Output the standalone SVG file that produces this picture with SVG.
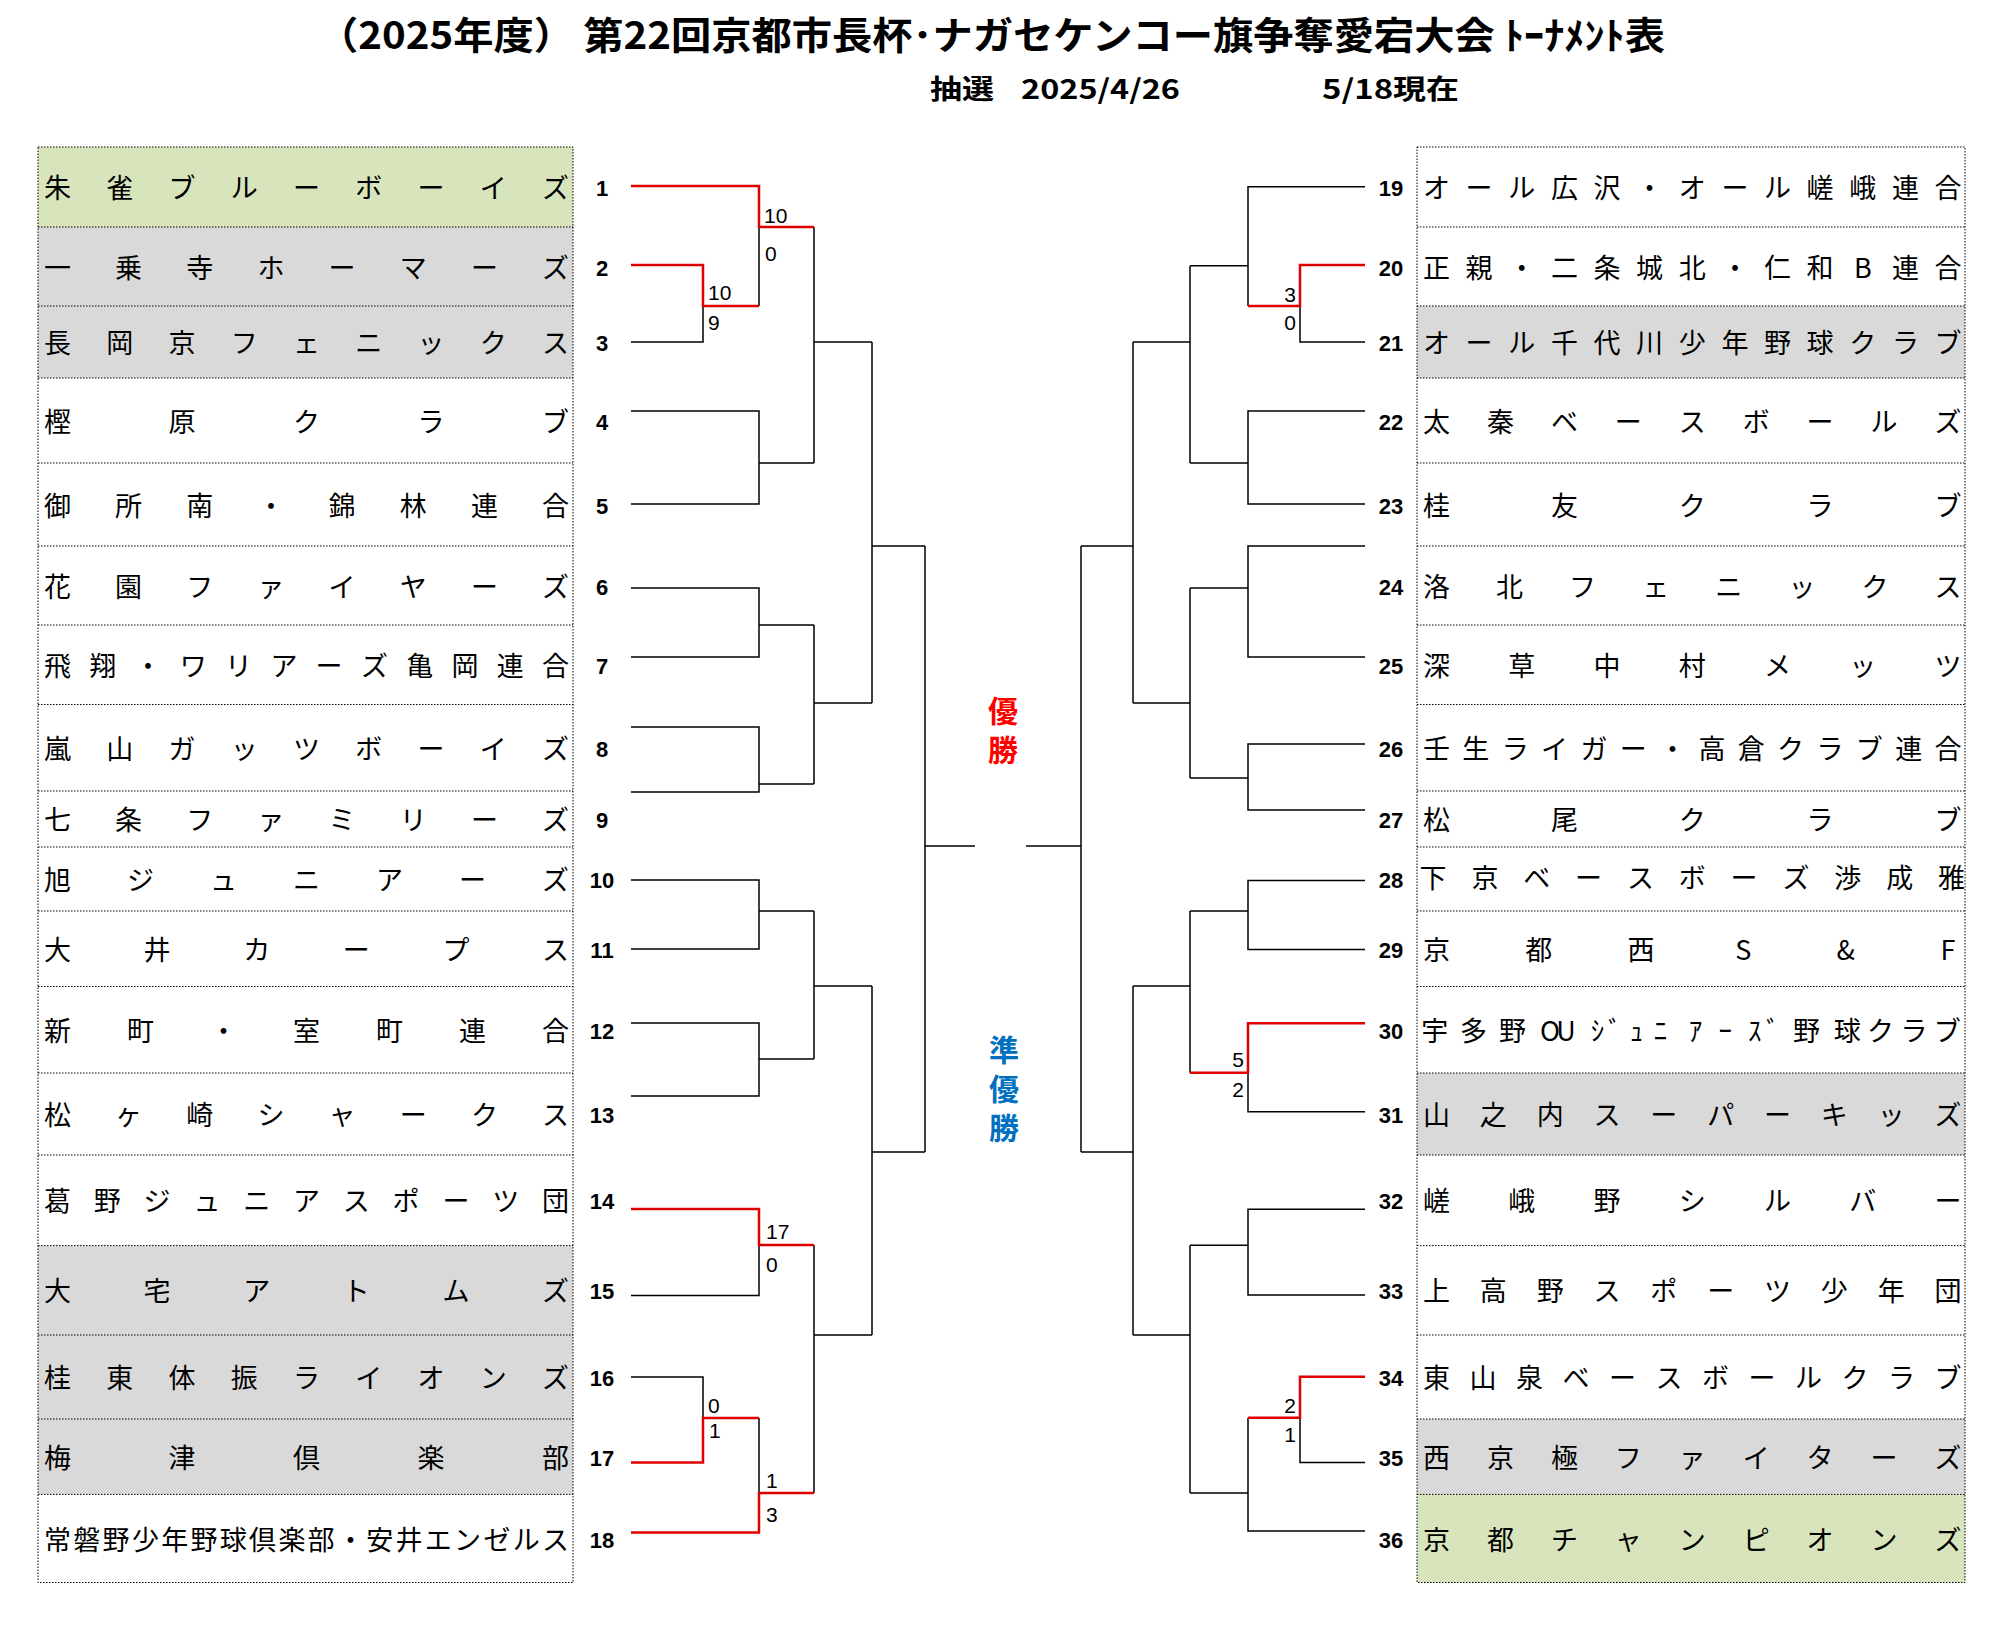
<svg xmlns="http://www.w3.org/2000/svg" width="2001" height="1638" viewBox="0 0 2001 1638">
<style>
.ln{fill:none;stroke:#000;stroke-width:1.5}
.rd{fill:none;stroke:#E00000;stroke-width:2.5}
.nm{font-family:"Noto Sans CJK JP","Noto Sans CJK SC",sans-serif;font-size:27px;text-anchor:middle;fill:#000}
.no{font-family:"Liberation Sans",Arial,sans-serif;font-weight:bold;font-size:22px;text-anchor:middle;fill:#000}
.sc{font-family:"Liberation Sans",Arial,sans-serif;font-size:21px;fill:#000}
.scr{font-family:"Liberation Sans",Arial,sans-serif;font-size:21px;fill:#000;text-anchor:end}
.dot{fill:none;stroke:#000;stroke-width:1;stroke-dasharray:1.5 1.5}
.gr{fill:#D9D9D9}
.gn{fill:#D8E4BC}
.ttl{font-family:"Noto Sans CJK JP",sans-serif;font-weight:bold;fill:#000}
.ctr{font-family:"Noto Sans CJK JP",sans-serif;font-weight:bold;font-size:30px;writing-mode:vertical-rl;letter-spacing:9px}
</style>
<rect x="0" y="0" width="2001" height="1638" fill="#fff"/>
<g id="title">
<text class="ttl" x="318" y="49" font-size="38" textLength="1347" lengthAdjust="spacingAndGlyphs">（2025年度） 第22回京都市長杯･ナガセケンコー旗争奪愛宕大会 ﾄｰﾅﾒﾝﾄ表</text>
<text class="ttl" x="930" y="99" font-size="27" textLength="64" lengthAdjust="spacingAndGlyphs">抽選</text>
<text class="ttl" x="1021" y="99" font-size="27" textLength="159" lengthAdjust="spacingAndGlyphs">2025/4/26</text>
<text class="ttl" x="1322" y="99" font-size="27" textLength="137" lengthAdjust="spacingAndGlyphs">5/18現在</text>
</g>
<g id="fills">
<rect class="gn" x="38" y="147" width="535" height="80"/>
<rect class="gr" x="38" y="227" width="535" height="151"/>
<rect class="gr" x="38" y="1245.6" width="535" height="248.8"/>
<rect class="gr" x="1417" y="306" width="548" height="72"/>
<rect class="gr" x="1417" y="1073" width="548" height="82"/>
<rect class="gr" x="1417" y="1419" width="548" height="75.4"/>
<rect class="gn" x="1417" y="1494.4" width="548" height="88.1"/>
</g>
<g id="table-borders">
<rect class="dot" x="38" y="147" width="535" height="1435.5"/>
<rect class="dot" x="1417" y="147" width="548" height="1435.5"/>
<path class="dot" d="M38,227H573M38,306H573M38,378H573M38,463H573M38,546H573M38,625H573M38,704.5H573M38,791H573M38,847H573M38,911H573M38,986.5H573M38,1073H573M38,1155H573M38,1245.6H573M38,1335H573M38,1419H573M38,1494.4H573"/>
<path class="dot" d="M1417,227H1965M1417,306H1965M1417,378H1965M1417,463H1965M1417,546H1965M1417,625H1965M1417,704.5H1965M1417,791H1965M1417,847H1965M1417,911H1965M1417,986.5H1965M1417,1073H1965M1417,1155H1965M1417,1245.6H1965M1417,1335H1965M1417,1419H1965M1417,1494.4H1965"/>
</g>
<g id="team-1"><text class="no" x="602" y="196">1</text><text class="nm" x="57.5 119.75 182 244.25 306.5 368.75 431 493.25 555.5" y="198">朱雀ブルーボーイズ</text></g>
<g id="team-2"><text class="no" x="602" y="276">2</text><text class="nm" x="57.5 128.6 199.8 270.9 342.1 413.2 484.4 555.5" y="278">一乗寺ホーマーズ</text></g>
<g id="team-3"><text class="no" x="602" y="351">3</text><text class="nm" x="57.5 119.75 182 244.25 306.5 368.75 431 493.25 555.5" y="353">長岡京フェニックス</text></g>
<g id="team-4"><text class="no" x="602" y="430">4</text><text class="nm" x="57.5 182 306.5 431 555.5" y="432">樫原クラブ</text></g>
<g id="team-5"><text class="no" x="602" y="514">5</text><text class="nm" x="57.5 128.6 199.8 270.9 342.1 413.2 484.4 555.5" y="516">御所南・錦林連合</text></g>
<g id="team-6"><text class="no" x="602" y="595">6</text><text class="nm" x="57.5 128.6 199.8 270.9 342.1 413.2 484.4 555.5" y="597">花園ファイヤーズ</text></g>
<g id="team-7"><text class="no" x="602" y="674">7</text><text class="nm" x="57.5 102.8 148.1 193.3 238.6 283.9 329.1 374.4 419.7 464.9 510.2 555.5" y="676">飛翔・ワリアーズ亀岡連合</text></g>
<g id="team-8"><text class="no" x="602" y="757">8</text><text class="nm" x="57.5 119.75 182 244.25 306.5 368.75 431 493.25 555.5" y="759">嵐山ガッツボーイズ</text></g>
<g id="team-9"><text class="no" x="602" y="828">9</text><text class="nm" x="57.5 128.6 199.8 270.9 342.1 413.2 484.4 555.5" y="830">七条ファミリーズ</text></g>
<g id="team-10"><text class="no" x="602" y="888">10</text><text class="nm" x="57.5 140.5 223.5 306.5 389.5 472.5 555.5" y="890">旭ジュニアーズ</text></g>
<g id="team-11"><text class="no" x="602" y="958">11</text><text class="nm" x="57.5 157.1 256.7 356.3 455.9 555.5" y="960">大井カープス</text></g>
<g id="team-12"><text class="no" x="602" y="1039">12</text><text class="nm" x="57.5 140.5 223.5 306.5 389.5 472.5 555.5" y="1041">新町・室町連合</text></g>
<g id="team-13"><text class="no" x="602" y="1123">13</text><text class="nm" x="57.5 128.6 199.8 270.9 342.1 413.2 484.4 555.5" y="1125">松ヶ崎シャークス</text></g>
<g id="team-14"><text class="no" x="602" y="1209">14</text><text class="nm" x="57.5 107.3 157.1 206.9 256.7 306.5 356.3 406.1 455.9 505.7 555.5" y="1211">葛野ジュニアスポーツ団</text></g>
<g id="team-15"><text class="no" x="602" y="1299">15</text><text class="nm" x="57.5 157.1 256.7 356.3 455.9 555.5" y="1301">大宅アトムズ</text></g>
<g id="team-16"><text class="no" x="602" y="1386">16</text><text class="nm" x="57.5 119.75 182 244.25 306.5 368.75 431 493.25 555.5" y="1388">桂東体振ライオンズ</text></g>
<g id="team-17"><text class="no" x="602" y="1466">17</text><text class="nm" x="57.5 182 306.5 431 555.5" y="1468">梅津倶楽部</text></g>
<g id="team-18"><text class="no" x="602" y="1548">18</text><text class="nm" x="57.5 86.8 116.1 145.4 174.7 204 233.3 262.6 291.9 321.1 350.4 379.7 409 438.3 467.6 496.9 526.2 555.5" y="1550">常磐野少年野球倶楽部・安井エンゼルス</text></g>
<g id="team-19"><text class="no" x="1391" y="196">19</text><text class="nm" x="1436.5 1479.1 1521.8 1564.4 1607 1649.6 1692.3 1734.9 1777.5 1820.1 1862.8 1905.4 1948" y="198">オール広沢・オール嵯峨連合</text></g>
<g id="team-20"><text class="no" x="1391" y="276">20</text><text class="nm" x="1436.5 1479.1 1521.8 1564.4 1607 1649.6 1692.3 1734.9 1777.5 1820.1 1862.8 1905.4 1948" y="278">正親・二条城北・仁和B連合</text></g>
<g id="team-21"><text class="no" x="1391" y="351">21</text><text class="nm" x="1436.5 1479.1 1521.8 1564.4 1607 1649.6 1692.3 1734.9 1777.5 1820.1 1862.8 1905.4 1948" y="353">オール千代川少年野球クラブ</text></g>
<g id="team-22"><text class="no" x="1391" y="430">22</text><text class="nm" x="1436.5 1500.4 1564.4 1628.3 1692.3 1756.2 1820.1 1884.1 1948" y="432">太秦ベースボールズ</text></g>
<g id="team-23"><text class="no" x="1391" y="514">23</text><text class="nm" x="1436.5 1564.4 1692.3 1820.1 1948" y="516">桂友クラブ</text></g>
<g id="team-24"><text class="no" x="1391" y="595">24</text><text class="nm" x="1436.5 1509.6 1582.6 1655.7 1728.8 1801.9 1874.9 1948" y="597">洛北フェニックス</text></g>
<g id="team-25"><text class="no" x="1391" y="674">25</text><text class="nm" x="1436.5 1521.8 1607 1692.3 1777.5 1862.8 1948" y="676">深草中村メッツ</text></g>
<g id="team-26"><text class="no" x="1391" y="757">26</text><text class="nm" x="1436.5 1475.8 1515.2 1554.5 1593.9 1633.2 1672.6 1711.9 1751.3 1790.6 1830 1869.3 1908.7 1948" y="759">壬生ライガー・高倉クラブ連合</text></g>
<g id="team-27"><text class="no" x="1391" y="828">27</text><text class="nm" x="1436.5 1564.4 1692.3 1820.1 1948" y="830">松尾クラブ</text></g>
<g id="team-28"><text class="no" x="1391" y="888">28</text><text class="nm" font-size="20" x="1433 1484.9 1536.7 1588.6 1640.4 1692.3 1744.1 1796 1847.8 1899.7 1951.5" y="888">下京ベースボーズ渉成雅</text></g>
<g id="team-29"><text class="no" x="1391" y="958">29</text><text class="nm" x="1436.5 1538.8 1641.1 1743.4 1845.7 1948" y="960">京都西S&amp;F</text></g>
<g id="team-30"><text class="no" x="1391" y="1039">30</text><text class="nm" x="1434.8 1473.6 1512.4 1550 1566 1597.5 1615 1636.4 1660.4 1695.6 1725.2 1754.8 1773 1806.6 1847.3 1880.6 1913.9 1947.2" y="1041">宇多野OUｼﾞｭﾆｱｰｽﾞ野球クラブ</text></g>
<g id="team-31"><text class="no" x="1391" y="1123">31</text><text class="nm" x="1436.5 1493.3 1550.2 1607 1663.8 1720.7 1777.5 1834.3 1891.2 1948" y="1125">山之内スーパーキッズ</text></g>
<g id="team-32"><text class="no" x="1391" y="1209">32</text><text class="nm" x="1436.5 1521.8 1607 1692.3 1777.5 1862.8 1948" y="1211">嵯峨野シルバー</text></g>
<g id="team-33"><text class="no" x="1391" y="1299">33</text><text class="nm" x="1436.5 1493.3 1550.2 1607 1663.8 1720.7 1777.5 1834.3 1891.2 1948" y="1301">上高野スポーツ少年団</text></g>
<g id="team-34"><text class="no" x="1391" y="1386">34</text><text class="nm" x="1436.5 1483 1529.5 1576 1622.5 1669 1715.5 1762 1808.5 1855 1901.5 1948" y="1388">東山泉ベースボールクラブ</text></g>
<g id="team-35"><text class="no" x="1391" y="1466">35</text><text class="nm" x="1436.5 1500.4 1564.4 1628.3 1692.3 1756.2 1820.1 1884.1 1948" y="1468">西京極ファイターズ</text></g>
<g id="team-36"><text class="no" x="1391" y="1548">36</text><text class="nm" x="1436.5 1500.4 1564.4 1628.3 1692.3 1756.2 1820.1 1884.1 1948" y="1550">京都チャンピオンズ</text></g>
<g id="connectors">
<path class="ln" d="M631,342H703V306M759,227V306M631,411H759V504H631M759,463H814M814,227V463M814,342H872M631,588H759V657H631M759,625H814M631,727H759V792H631M759,784H814M814,625V784M814,703H872M872,342V703M872,546H925M631,880H759V949H631M759,911H814M631,1023H759V1096H631M759,1059H814M814,911V1059M814,986H872M631,1295.5H759V1245M631,1377H703V1418M759,1418V1493M814,1245V1493M814,1335H872M872,986V1335M872,1152H925M925,546V1152M925,846H975"/>
<path class="ln" d="M1365,186.7H1248V306M1248,265.7H1190M1365,342H1300V306M1365,411H1248V504H1365M1248,463H1190M1190,265.7V463M1190,342H1133M1365,546H1248V657H1365M1248,588H1190M1365,744H1248V810H1365M1248,778H1190M1190,588V778M1190,703H1133M1133,342V703M1133,546H1081M1365,880.6H1248V949.5H1365M1248,911H1190M1365,1111.7H1248V1072.7M1190,911V1072.7M1190,986H1133M1365,1209.3H1248V1295H1365M1248,1245.3H1190M1365,1462.5H1300V1417.7M1248,1417.7V1531H1365M1248,1493H1190M1190,1245.3V1493M1190,1335H1133M1133,986V1335M1133,1152H1081M1081,546V1152M1081,846H1026"/>
<path class="rd" d="M631,186H759V227H814M631,265H703V306H759M631,1209H759V1245H814M631,1462.5H703V1418H759M631,1532.5H759V1493H814"/>
<path class="rd" d="M1365,265H1300V306H1248M1365,1023.3H1248V1072.7H1190M1365,1376.7H1300V1417.7H1248"/>
</g>
<g id="scores">
<text class="sc" x="764" y="223">10</text>
<text class="sc" x="765" y="261">0</text>
<text class="sc" x="708" y="300">10</text>
<text class="sc" x="708" y="330">9</text>
<text class="sc" x="766" y="1239">17</text>
<text class="sc" x="766" y="1272">0</text>
<text class="sc" x="708" y="1413">0</text>
<text class="sc" x="709" y="1438" font-size="16">1</text>
<text class="sc" x="766" y="1488">1</text>
<text class="sc" x="766" y="1522">3</text>
<text class="scr" x="1296" y="302">3</text>
<text class="scr" x="1296" y="330">0</text>
<text class="scr" x="1244" y="1067">5</text>
<text class="scr" x="1244" y="1097">2</text>
<text class="scr" x="1296" y="1413">2</text>
<text class="scr" x="1296" y="1442">1</text>
</g>
<g id="labels">
<text class="ctr" fill="#FF0000" x="1003" y="696">優勝</text>
<text class="ctr" fill="#0070C0" x="1004" y="1035">準優勝</text>
</g>
</svg>
